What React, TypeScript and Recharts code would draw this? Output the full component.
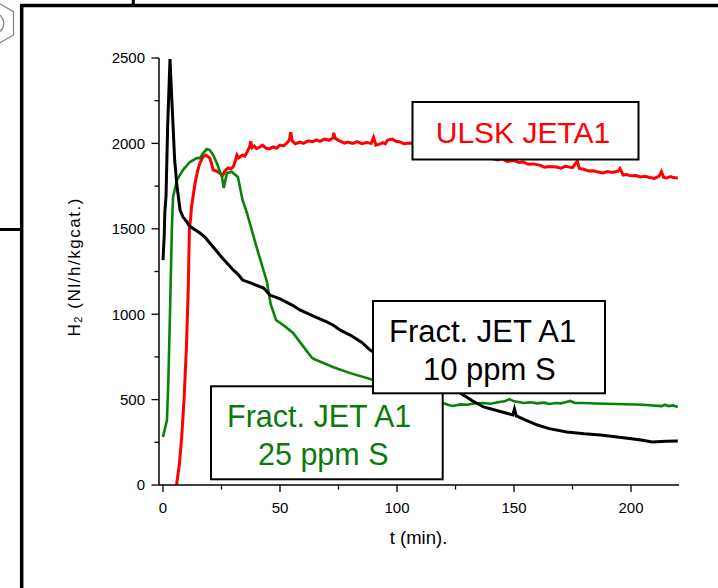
import React from 'react';
import { LineChart, Line, XAxis, YAxis } from 'recharts';

const FONT = '"Liberation Sans", Arial, Helvetica, sans-serif';

// axis ticks
const xTicks = [0, 25, 50, 75, 100, 125, 150, 175, 200];
const xLabels = [0, 50, 100, 150, 200];
const yTicks = [0, 250, 500, 750, 1000, 1250, 1500, 1750, 2000, 2250, 2500];
const yLabels = [0, 500, 1000, 1500, 2000, 2500];

// labels
const xTitle = 't (min).';
const yTitleMain = 'H';
const yTitleSub = '2';
const yTitleRest = ' (Nl/h/kgcat.)';
const labelUlsk = 'ULSK JETA1';
const label10Line1 = 'Fract. JET A1';
const label10Line2 = '10 ppm S';
const label25Line1 = 'Fract. JET A1';
const label25Line2 = '25 ppm S';

// ULSK JETA1 (red)
const ulskJetA1 = [
  { t: 5.8, h: 0 }, { t: 7, h: 120 }, { t: 8, h: 280 }, { t: 9, h: 500 }, { t: 10, h: 800 },
  { t: 10.8, h: 1150 }, { t: 11.3, h: 1500 }, { t: 11.8, h: 1560 }, { t: 12.2, h: 1628 },
  { t: 13.7, h: 1767 }, { t: 14.8, h: 1840 }, { t: 15.8, h: 1885 }, { t: 17, h: 1920 },
  { t: 18.4, h: 1932 }, { t: 20, h: 1914 }, { t: 20.8, h: 1880 }, { t: 21.4, h: 1844 },
  { t: 22.5, h: 1840 }, { t: 23.5, h: 1833 }, { t: 24.5, h: 1822 }, { t: 25.6, h: 1815 },
  { t: 26.5, h: 1840 }, { t: 27.8, h: 1856 }, { t: 29, h: 1850 }, { t: 30, h: 1862 },
  { t: 31, h: 1900 }, { t: 31.6, h: 1932 }, { t: 32.3, h: 1915 }, { t: 33, h: 1922 },
  { t: 34, h: 1932 }, { t: 35, h: 1925 }, { t: 36, h: 1950 }, { t: 37, h: 1979 },
  { t: 37.5, h: 2012 }, { t: 38, h: 1975 }, { t: 39, h: 1985 }, { t: 40, h: 1970 },
  { t: 41.5, h: 1979 }, { t: 42.5, h: 1990 }, { t: 44, h: 1972 }, { t: 45.5, h: 1968 },
  { t: 47, h: 1979 }, { t: 48.5, h: 1972 }, { t: 50, h: 1990 }, { t: 51.5, h: 1985 },
  { t: 53, h: 2002 }, { t: 54, h: 2020 }, { t: 54.6, h: 2065 }, { t: 55.2, h: 2015 },
  { t: 56.5, h: 1998 }, { t: 58.5, h: 2008 }, { t: 60, h: 2000 }, { t: 62, h: 2015 },
  { t: 64, h: 2010 }, { t: 65.6, h: 2020 }, { t: 67, h: 2012 }, { t: 69, h: 2025 },
  { t: 71, h: 2018 }, { t: 72.6, h: 2032 }, { t: 73, h: 2062 }, { t: 73.6, h: 2030 },
  { t: 75, h: 2018 }, { t: 76, h: 2012 }, { t: 77.5, h: 2002 }, { t: 79, h: 2008 },
  { t: 81, h: 2000 }, { t: 83, h: 2010 }, { t: 85, h: 1998 }, { t: 87, h: 2005 },
  { t: 89, h: 2000 }, { t: 90, h: 2035 }, { t: 91, h: 1990 }, { t: 92.5, h: 1996 },
  { t: 94, h: 2005 }, { t: 95, h: 1998 }, { t: 96, h: 2020 }, { t: 98, h: 2025 },
  { t: 99.5, h: 2012 }, { t: 101, h: 2010 }, { t: 103, h: 1998 }, { t: 105.6, h: 2002 },
  { t: 115, h: 1985 }, { t: 125, h: 1960 }, { t: 135, h: 1930 }, { t: 143, h: 1903 },
  { t: 145, h: 1910 }, { t: 147, h: 1895 }, { t: 150, h: 1900 }, { t: 152, h: 1888 },
  { t: 154, h: 1891 }, { t: 156, h: 1878 }, { t: 158, h: 1880 }, { t: 161, h: 1873 },
  { t: 163, h: 1860 }, { t: 165, h: 1865 }, { t: 168, h: 1862 }, { t: 170, h: 1855 },
  { t: 172, h: 1866 }, { t: 175, h: 1858 }, { t: 177, h: 1895 }, { t: 178, h: 1852 },
  { t: 179.5, h: 1850 }, { t: 182, h: 1838 }, { t: 184, h: 1840 }, { t: 186, h: 1832 },
  { t: 188, h: 1827 }, { t: 190, h: 1835 }, { t: 192, h: 1830 }, { t: 194.5, h: 1838 },
  { t: 195.3, h: 1852 }, { t: 196.6, h: 1815 }, { t: 198, h: 1818 }, { t: 200, h: 1810 },
  { t: 202, h: 1812 }, { t: 204, h: 1803 }, { t: 206, h: 1808 }, { t: 208, h: 1800 },
  { t: 210, h: 1795 }, { t: 212, h: 1808 }, { t: 213, h: 1835 }, { t: 214, h: 1800 },
  { t: 215, h: 1797 }, { t: 217, h: 1806 }, { t: 218, h: 1800 }, { t: 220, h: 1797 },
];

// Fract. JET A1, 25 ppm S (green)
const jet25ppm = [
  { t: 0, h: 281 }, { t: 1.7, h: 380 }, { t: 2.3, h: 615 }, { t: 3, h: 1007 }, { t: 3.3, h: 1200 },
  { t: 3.8, h: 1500 }, { t: 4.3, h: 1686 }, { t: 6, h: 1786 }, { t: 8.5, h: 1844 },
  { t: 11.5, h: 1891 }, { t: 14.4, h: 1914 }, { t: 15.8, h: 1914 }, { t: 17, h: 1940 },
  { t: 18.7, h: 1967 }, { t: 20, h: 1961 }, { t: 21.5, h: 1930 }, { t: 23, h: 1885 },
  { t: 25.2, h: 1803 }, { t: 26, h: 1739 }, { t: 27.3, h: 1827 }, { t: 29.5, h: 1833 },
  { t: 32, h: 1803 }, { t: 34, h: 1669 }, { t: 35.9, h: 1592 }, { t: 40, h: 1393 },
  { t: 44.4, h: 1190 }, { t: 46, h: 1060 }, { t: 48.3, h: 966 }, { t: 52, h: 930 },
  { t: 55.6, h: 890 }, { t: 60, h: 810 }, { t: 63.7, h: 744 }, { t: 65, h: 735 },
  { t: 72.6, h: 691 }, { t: 80, h: 655 }, { t: 90, h: 615 }, { t: 100, h: 575 },
  { t: 110, h: 520 }, { t: 116, h: 490 }, { t: 119.6, h: 480 }, { t: 122, h: 468 },
  { t: 124, h: 463 }, { t: 127, h: 472 }, { t: 130, h: 470 }, { t: 133, h: 478 },
  { t: 137, h: 480 }, { t: 140, h: 476 }, { t: 143, h: 485 }, { t: 146, h: 490 },
  { t: 148, h: 503 }, { t: 150, h: 490 }, { t: 152, h: 486 }, { t: 154, h: 480 },
  { t: 157, h: 484 }, { t: 160, h: 478 }, { t: 163, h: 482 }, { t: 165, h: 474 },
  { t: 168, h: 480 }, { t: 170, h: 478 }, { t: 172, h: 484 }, { t: 174, h: 492 },
  { t: 176, h: 480 }, { t: 179, h: 480 }, { t: 185, h: 477 }, { t: 194, h: 474 },
  { t: 205, h: 470 }, { t: 213, h: 462 }, { t: 214.5, h: 470 }, { t: 216, h: 462 },
  { t: 218, h: 466 }, { t: 220, h: 457 },
];

// Fract. JET A1, 10 ppm S (black)
const jet10ppm = [
  { t: 0, h: 1317 }, { t: 0.5, h: 1450 }, { t: 0.8, h: 1600 }, { t: 1.3, h: 1690 },
  { t: 2, h: 2100 }, { t: 3, h: 2494 }, { t: 3.8, h: 2250 }, { t: 5, h: 1900 },
  { t: 6, h: 1750 }, { t: 7.3, h: 1610 }, { t: 8.5, h: 1570 }, { t: 10.3, h: 1540 },
  { t: 11, h: 1520 }, { t: 13, h: 1500 }, { t: 15.8, h: 1475 }, { t: 18, h: 1450 },
  { t: 20, h: 1417 }, { t: 22, h: 1385 }, { t: 25, h: 1335 }, { t: 28, h: 1290 },
  { t: 30, h: 1259 }, { t: 32, h: 1235 }, { t: 34, h: 1200 }, { t: 38, h: 1180 },
  { t: 43, h: 1153 }, { t: 45.7, h: 1112 }, { t: 50, h: 1090 }, { t: 55, h: 1055 },
  { t: 58.5, h: 1025 }, { t: 65, h: 985 }, { t: 70, h: 955 }, { t: 72.6, h: 937 },
  { t: 76, h: 905 }, { t: 80, h: 878 }, { t: 85, h: 835 }, { t: 88.5, h: 790 },
  { t: 95, h: 740 }, { t: 105, h: 680 }, { t: 115, h: 610 }, { t: 122, h: 565 },
  { t: 127, h: 539 }, { t: 132, h: 495 }, { t: 137, h: 457 }, { t: 143, h: 435 },
  { t: 149.5, h: 410 }, { t: 150.2, h: 445 }, { t: 151, h: 405 }, { t: 155, h: 380 },
  { t: 160, h: 351 }, { t: 165, h: 330 }, { t: 172.6, h: 310 }, { t: 180, h: 300 },
  { t: 187, h: 293 }, { t: 195, h: 280 }, { t: 201, h: 269 }, { t: 205, h: 262 },
  { t: 209, h: 252 }, { t: 215, h: 256 }, { t: 220, h: 258 },
];

const XTick = (props: any) => {
  const { x, y, payload } = props;
  const major = xLabels.includes(payload.value);
  return (
    <g>
      <line x1={x} x2={x} y1={y} y2={y + (major ? 7 : 4.5)} stroke="#000" strokeWidth={1.3} />
      {major && (
        <text x={x} y={y + 28} textAnchor="middle" fontSize={15} fontFamily={FONT} fill="#000">
          {payload.value}
        </text>
      )}
    </g>
  );
};

const YTick = (props: any) => {
  const { x, y, payload } = props;
  const major = yLabels.includes(payload.value);
  return (
    <g>
      <line x1={x} x2={x - (major ? 7.5 : 4.5)} y1={y} y2={y} stroke="#000" strokeWidth={1.3} />
      {major && (
        <text x={x - 14} y={y} dy="0.36em" textAnchor="end" fontSize={15} fontFamily={FONT} fill="#000">
          {payload.value}
        </text>
      )}
    </g>
  );
};

const YTitle = (props: any) => {
  const vb = props.viewBox || { x: 59, y: 58, width: 100, height: 427 };
  const cx = vb.x + 15;
  const cy = vb.y + vb.height / 2 - 4;
  return (
    <text
      x={cx}
      y={cy}
      transform={`rotate(-90 ${cx} ${cy})`}
      textAnchor="middle"
      dominantBaseline="central"
      fontSize={17}
      textLength={138}
      fontFamily={FONT}
      fill="#000"
    >
      <tspan>{yTitleMain}</tspan>
      <tspan fontSize={11} dy={4}>{yTitleSub}</tspan>
      <tspan dy={-4}>{yTitleRest}</tspan>
    </text>
  );
};

const XTitle = (props: any) => {
  const vb = props.viewBox || { x: 159, y: 485, width: 520, height: 30 };
  return (
    <text x={vb.x + vb.width / 2 - 0.5} y={544} textAnchor="middle" fontSize={18.5} fontFamily={FONT} fill="#000">
      {xTitle}
    </text>
  );
};

export default function App() {
  return (
    <div style={{ position: 'absolute', left: 0, top: 0, width: 718, height: 588, background: '#fff', overflow: 'hidden' }}>
      <div style={{ position: 'absolute', left: 0, top: 0 }}>
        <LineChart width={718} height={588} margin={{ top: 58, right: 39, bottom: 73, left: 59 }}>
          <XAxis
            dataKey="t"
            type="number"
            domain={[-1.7, 220.5]}
            ticks={xTicks}
            interval={0}
            allowDataOverflow
            height={30}
            tickSize={0}
            tickMargin={0}
            tickLine={false}
            tick={<XTick />}
            axisLine={{ stroke: '#000', strokeWidth: 1.5 }}
            label={<XTitle />}
          />
          <YAxis
            dataKey="h"
            type="number"
            domain={[0, 2500]}
            ticks={yTicks}
            interval={0}
            allowDataOverflow
            width={100}
            tickSize={0}
            tickMargin={0}
            tickLine={false}
            tick={<YTick />}
            axisLine={{ stroke: '#000', strokeWidth: 1.5 }}
            label={<YTitle />}
          />
          <Line data={ulskJetA1} dataKey="h" stroke="#ff0000" strokeWidth={3} dot={false} isAnimationActive={false} type="linear" />
          <Line data={jet25ppm} dataKey="h" stroke="#0a820a" strokeWidth={2.6} dot={false} isAnimationActive={false} type="linear" />
          <Line data={jet10ppm} dataKey="h" stroke="#000000" strokeWidth={3} dot={false} isAnimationActive={false} type="linear" />
        </LineChart>
      </div>
      <svg width={718} height={588} style={{ position: 'absolute', left: 0, top: 0, pointerEvents: 'none' }}>
        {/* slide frame remnants */}
        <line x1={20} x2={718} y1={5.5} y2={5.5} stroke="#000" strokeWidth={3.5} />
        <line x1={21.7} x2={21.7} y1={4} y2={588} stroke="#000" strokeWidth={3.5} />
        <line x1={0} x2={21} y1={229.5} y2={229.5} stroke="#000" strokeWidth={3} />
        <line x1={133.3} x2={133.3} y1={0} y2={5} stroke="#000" strokeWidth={3} />
        <polygon points="-6.7,0 13.5,11.65 13.5,34.95 -6.7,46.6 -26.9,34.95 -26.9,11.65" fill="none" stroke="#808080" strokeWidth={1.2} />
        <circle cx={-6.7} cy={23.3} r={10.5} fill="none" stroke="#808080" strokeWidth={1.2} />

        {/* annotation boxes */}
        <rect x={412.5} y={102} width={226} height={57.5} fill="#fff" stroke="#000" strokeWidth={2} />
        <text x={523} y={143} textAnchor="middle" fontSize={30} fontFamily={FONT} fill="#ff0000">{labelUlsk}</text>

        <rect x={211} y={386.3} width={231.7} height={93} fill="#fff" stroke="#000" strokeWidth={2} />
        <text x={227} y={427} fontSize={30.5} fontFamily={FONT} fill="#0a7a0a">{label25Line1}</text>
        <text x={258} y={465} fontSize={30.5} fontFamily={FONT} fill="#0a7a0a">{label25Line2}</text>

        <rect x={373} y={301} width={232} height={92.3} fill="#fff" stroke="#000" strokeWidth={2} />
        <text x={389} y={342} fontSize={31} fontFamily={FONT} fill="#000">{label10Line1}</text>
        <text x={423} y={379.5} fontSize={31} fontFamily={FONT} fill="#000">{label10Line2}</text>
      </svg>
    </div>
  );
}
